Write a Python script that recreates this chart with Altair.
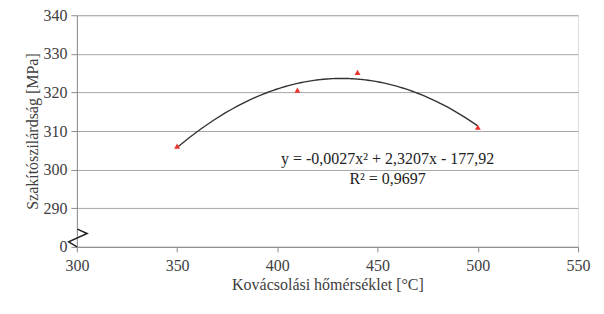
import altair as alt
import pandas as pd

temps = [350, 410, 440, 500]
strengths = [306.1, 320.6, 325.2, 311.0]

break_x = [300.25, 305.1, 295.9, 300.1]
break_y = [284.6, 283.45, 281.3, 280.0]
break_order = [0, 1, 2, 3]

eq_text = ["y = -0,0027x² + 2,3207x - 177,92", "R² = 0,9697"]
eq_x = [455, 455]
eq_y = [302.8, 297.6]

y_ticks = [280, 290, 300, 310, 320, 330, 340]
x_ticks = [300, 350, 400, 450, 500, 550]

FONT = "Liberation Serif"
df = pd.DataFrame({"t": temps, "s": strengths})
brk = pd.DataFrame({"x": break_x, "y": break_y, "o": break_order})
eq = pd.DataFrame({"txt": eq_text, "x": eq_x, "y": eq_y})

xs = alt.Scale(domain=[300, 550], nice=False, zero=False)
ys = alt.Scale(domain=[280, 340], nice=False, zero=False)

xax = alt.Axis(values=x_ticks, title="Kovácsolási hőmérséklet [°C]",
               grid=False, labelFont=FONT, titleFont=FONT, labelFontSize=16, titleFontSize=16,
               labelColor="#404040", titleColor="#404040", titleFontWeight="normal",
               labelOverlap=False, labelFlush=False,
               domainColor="#8c8c8c", tickColor="#8c8c8c", tickSize=5, labelPadding=6, titlePadding=3)
yax = alt.Axis(values=y_ticks, title="Szakítószilárdság [MPa]",
               labelExpr="datum.value == 280 ? '0' : datum.label",
               labelOverlap=False, labelFlush=False,
               grid=True, gridColor="#a6a6a6", labelFont=FONT, titleFont=FONT,
               labelFontSize=16, titleFontSize=16, labelColor="#404040", titleColor="#404040",
               titleFontWeight="normal", domainColor="#8c8c8c", tickColor="#8c8c8c",
               tickSize=6, labelPadding=4, titlePadding=2)

X = lambda f: alt.X(f, scale=xs, axis=xax)
Y = lambda f: alt.Y(f, scale=ys, axis=yax)

base = alt.Chart(df)
trend = base.transform_regression("t", "s", method="poly", order=2, extent=[350, 500], groupby=[]).mark_line(
    color="#333333", strokeWidth=1.4).encode(x=X("t:Q"), y=Y("s:Q"))
pts = base.mark_point(shape="triangle-up", filled=True, color="#e8362d", size=35, opacity=1).encode(
    x=X("t:Q"), y=Y("s:Q"))
brk_line = alt.Chart(brk).mark_line(color="#222222", strokeWidth=1.5, clip=False).encode(
    x=X("x:Q"), y=Y("y:Q"), order="o:Q")
txt = alt.Chart(eq).mark_text(font=FONT, fontSize=16, color="#222222").encode(
    x=X("x:Q"), y=Y("y:Q"), text="txt:N")

chart = alt.layer(trend, pts, brk_line, txt).properties(
    width=502, height=232, autosize=alt.AutoSizeParams(type="none"),
    padding={"left": 69, "top": 7, "right": 18, "bottom": 60}
).configure_view(stroke="#a6a6a6", strokeWidth=1).configure(background="white")

chart.save("out.html", embed_options={"renderer": "svg", "actions": False})
